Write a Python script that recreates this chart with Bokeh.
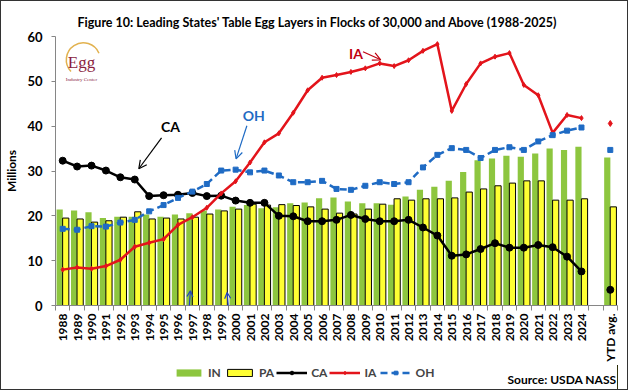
from bokeh.plotting import figure
from bokeh.layouts import column
from bokeh.models import (Range1d, FixedTicker, Legend, LegendItem, Label, Arrow,
                          OpenHead, ColumnDataSource, Title)
from bokeh.transform import dodge
from bokeh.embed import file_html
from bokeh.resources import INLINE

# ---------------- data ----------------
years = [str(y) for y in range(1988, 2025)]
x_labels = years + ["", "YTD avg."]

in_vals = [21.4, 21.2, 20.8, 19.5, 19.8, 19.8, 20.3, 19.8, 20.3, 20.6, 21.2, 21.4,
           22.0, 22.4, 21.7, 21.9, 22.8, 23.0, 23.9, 24.1, 23.2, 22.8, 22.8, 22.5,
           24.3, 25.8, 26.5, 27.8, 29.8, 32.4, 32.8, 33.4, 33.2, 33.9, 35.0, 34.7, 35.4]
pa_vals = [19.5, 19.3, 18.6, 18.9, 19.7, 20.9, 19.3, 19.5, 19.3, 19.7, 20.4, 21.1,
           21.5, 22.6, 22.4, 22.5, 22.3, 22.0, 21.5, 20.6, 20.4, 21.5, 22.6, 23.8,
           23.5, 23.8, 23.8, 24.0, 25.3, 26.0, 26.7, 27.3, 27.8, 27.8, 23.5, 23.5, 23.8]
ca_vals = [32.3, 31.0, 31.2, 30.1, 28.6, 28.1, 24.4, 24.6, 24.7, 25.1, 24.4, 24.5,
           23.4, 22.9, 22.9, 20.0, 19.9, 18.8, 18.8, 19.1, 20.2, 19.3, 18.8, 18.8,
           19.1, 17.4, 15.6, 11.1, 11.4, 12.6, 13.9, 12.9, 12.9, 13.5, 13.0, 10.9, 7.6]
ia_vals = [8.0, 8.5, 8.2, 8.8, 10.2, 13.1, 14.0, 14.8, 18.0, 19.7, 21.8, 25.0,
           27.7, 31.9, 36.4, 38.4, 43.0, 48.0, 50.8, 51.4, 52.1, 52.9, 54.0, 53.4,
           54.7, 56.8, 58.3, 43.4, 49.4, 54.0, 55.5, 56.3, 49.2, 46.9, 38.5, 42.5, 41.8]
oh_vals = [17.1, 16.9, 17.7, 17.6, 18.5, 19.1, 21.0, 22.4, 24.0, 25.4, 27.1, 30.1,
           30.3, 29.7, 30.1, 29.0, 27.5, 27.5, 27.8, 26.0, 25.8, 26.7, 27.5, 27.1,
           27.5, 30.8, 33.6, 35.1, 34.7, 32.9, 34.7, 35.3, 34.7, 36.6, 38.0, 39.0, 39.7]
ytd_in, ytd_pa, ytd_ca, ytd_ia, ytd_oh = 33.0, 22.0, 3.5, 40.6, 34.7

TITLE = "Figure 10: Leading States' Table Egg Layers in Flocks of 30,000 and Above (1988-2025)"
SOURCE = "Source: USDA NASS"

# ---------------- styles ----------------
FONT = "Lato"
GREEN = "#8DC63F"
YELLOW = "#FFFF33"
RED = "#E3141B"
DARKRED = "#C00010"
BLUE = "#1F6BC4"
AXIS = "#868686"
W = 626
H_MAIN = 364
H_LEG = 24
BL, BR = 49, 10          # left / right borders shared by both stacked figures
FRAME_W = W - BL - BR

n = len(years)
xs = list(range(n))
ytd_x = n + 1

src = ColumnDataSource(dict(x=xs, IN=in_vals, PA=pa_vals, CA=ca_vals, IA=ia_vals, OH=oh_vals))
ytd = ColumnDataSource(dict(x=[ytd_x], IN=[ytd_in], PA=[ytd_pa], CA=[ytd_ca], IA=[ytd_ia], OH=[ytd_oh]))

p = figure(width=W, height=H_MAIN, x_range=Range1d(-0.5, n + 1.5), y_range=Range1d(0, 60),
           output_backend="svg", toolbar_location=None,
           min_border_left=BL, min_border_right=BR, min_border_top=35, min_border_bottom=60)
p.background_fill_color = "white"
p.border_fill_color = "white"
p.outline_line_color = None
p.xgrid.visible = False
p.ygrid.visible = False

# title
p.add_layout(Title(text=TITLE, align="left", offset=22, text_font=FONT, text_font_style="bold",
                   text_font_size="12.5px", text_color="black", standoff=13), "above")


def styled_renderers(fig, s):
    """Create the five series renderers on fig from source s."""
    r_in = fig.vbar(x=dodge("x", -0.21), top="IN", width=0.43, source=s,
                    fill_color=GREEN, line_color=None)
    r_pa = fig.vbar(x=dodge("x", 0.21), top="PA", width=0.43, source=s,
                    fill_color=YELLOW, line_color="black", line_width=1)
    r_ca_l = fig.line("x", "CA", source=s, line_color="black", line_width=2.5)
    r_ca_m = fig.scatter("x", "CA", source=s, marker="circle", size=7,
                         fill_color="black", line_color="black")
    r_ia_l = fig.line("x", "IA", source=s, line_color=RED, line_width=2.5)
    r_ia_m = fig.scatter("x", "IA", source=s, marker="diamond", size=5,
                         fill_color=RED, line_color=RED)
    r_oh_l = fig.line("x", "OH", source=s, line_color=BLUE, line_width=2.5, line_dash="7 4")
    r_oh_m = fig.scatter("x", "OH", source=s, marker="square", size=5,
                         fill_color=BLUE, line_color=BLUE)
    return [("IN", [r_in]), ("PA", [r_pa]), ("CA", [r_ca_l, r_ca_m]),
            ("IA", [r_ia_l, r_ia_m]), ("OH", [r_oh_l, r_oh_m])]


styled_renderers(p, src)
# YTD average column (not joined to the yearly lines)
p.vbar(x=dodge("x", -0.21), top="IN", width=0.43, source=ytd, fill_color=GREEN, line_color=None)
p.vbar(x=dodge("x", 0.21), top="PA", width=0.43, source=ytd, fill_color=YELLOW,
       line_color="black", line_width=1)
p.scatter("x", "CA", source=ytd, marker="circle", size=7, fill_color="black", line_color="black")
p.scatter("x", "IA", source=ytd, marker="diamond", size=6, fill_color=RED, line_color=RED)
p.scatter("x", "OH", source=ytd, marker="square", size=5, fill_color=BLUE, line_color=BLUE)

# axes
p.xaxis.ticker = FixedTicker(ticks=xs + [ytd_x], minor_ticks=[i - 0.5 for i in range(n + 3)])
p.xaxis.major_label_overrides = {i: lab for i, lab in enumerate(x_labels) if lab}
p.xaxis.major_label_orientation = 3.14159265 / 2
p.xaxis.major_tick_out = 0
p.xaxis.major_tick_in = 0
p.xaxis.minor_tick_out = 5
p.xaxis.minor_tick_in = 0
p.xaxis.minor_tick_line_color = AXIS
p.xaxis.axis_line_color = AXIS
p.xaxis.major_label_standoff = 3
p.xaxis.major_label_text_font = FONT
p.xaxis.major_label_text_font_style = "bold"
p.xaxis.major_label_text_font_size = "12px"
p.xaxis.major_label_text_color = "black"

p.yaxis.ticker = FixedTicker(ticks=[0, 10, 20, 30, 40, 50, 60])
p.yaxis.axis_line_color = AXIS
p.yaxis.major_tick_line_color = AXIS
p.yaxis.major_tick_out = 4
p.yaxis.major_tick_in = 0
p.yaxis.minor_tick_line_color = None
p.yaxis.major_label_standoff = 9
p.yaxis.major_label_text_font = FONT
p.yaxis.major_label_text_font_style = "bold"
p.yaxis.major_label_text_font_size = "13px"
p.yaxis.major_label_text_color = "black"
p.yaxis.axis_label = "Millions"
p.yaxis.axis_label_standoff = 5
p.yaxis.axis_label_text_font = FONT
p.yaxis.axis_label_text_font_style = "bold"
p.yaxis.axis_label_text_font_size = "12px"
p.yaxis.axis_label_text_color = "black"


# callouts
def add_label(fig, x, y, text, size, color="black", align="center", style="bold", font=FONT):
    fig.add_layout(Label(x=x, y=y, text=text, text_font=font, text_font_size=size,
                         text_font_style=style, text_color=color, text_align=align,
                         text_baseline="middle"))


add_label(p, 7.48, 39.9, "CA", "14px")
add_label(p, 13.26, 42.3, "OH", "14px", color=BLUE)
add_label(p, 20.35, 56.1, "IA", "14px", color=DARKRED)


def add_arrow(x0, y0, x1, y1, color, size=8):
    p.add_layout(Arrow(x_start=x0, y_start=y0, x_end=x1, y_end=y1, line_color=color,
                       line_width=1.2, end=OpenHead(size=size, line_color=color, line_width=1.2)))


add_arrow(6.86, 37.4, 5.28, 30.5, "black")
add_arrow(12.78, 40.1, 12.03, 32.7, BLUE)
add_arrow(20.84, 56.6, 22.07, 54.8, DARKRED)
add_arrow(8.52, -12.7, 8.86, 3.3, "#2040C0", size=6)
add_arrow(11.82, -12.7, 11.41, 2.9, "#2040C0", size=6)

# logo
p.arc(x=[1.43], y=[54.8], radius=17, radius_units="screen", start_angle=0.4, end_angle=3.9,
      line_color="#E2B24F", line_width=1.5)
add_label(p, 1.3, 54.2, "Egg", "17px", color="#8B1E3F", style="normal", font="Liberation Serif")
add_label(p, 1.3, 50.3, "Industry Center", "5px", color="#8B1E3F", style="normal",
          font="Liberation Serif")

# ---------------- legend strip ----------------
# The strip shares the series styling; its view window lies away from the data,
# so only the legend swatches and texts are visible.
lf = figure(width=W, height=H_LEG, x_range=Range1d(-2000, -2000 + FRAME_W), y_range=Range1d(0, H_LEG),
            output_backend="svg", toolbar_location=None,
            x_axis_location=None, y_axis_location=None,
            min_border_left=BL, min_border_right=BR, min_border_top=0, min_border_bottom=0)
lf.outline_line_color = None
lf.background_fill_color = "white"
lf.border_fill_color = "white"
lf.grid.visible = False
items = styled_renderers(lf, src)
legend = Legend(items=[LegendItem(label=lab, renderers=rs) for lab, rs in items],
                location=(118, 9), orientation="horizontal", glyph_width=31, glyph_height=9,
                label_height=12, label_width=14, label_standoff=4, spacing=2, padding=0, margin=0,
                border_line_color=None, background_fill_alpha=0,
                label_text_font=FONT, label_text_font_style="bold", label_text_font_size="12px")
lf.add_layout(legend)
add_label(lf, -2000 + FRAME_W - 1, 10, SOURCE, "12px", align="right")

layout = column(p, lf, spacing=0, styles={"border": "1px solid #333333"})
open("out.html", "w").write(file_html(layout, INLINE))
